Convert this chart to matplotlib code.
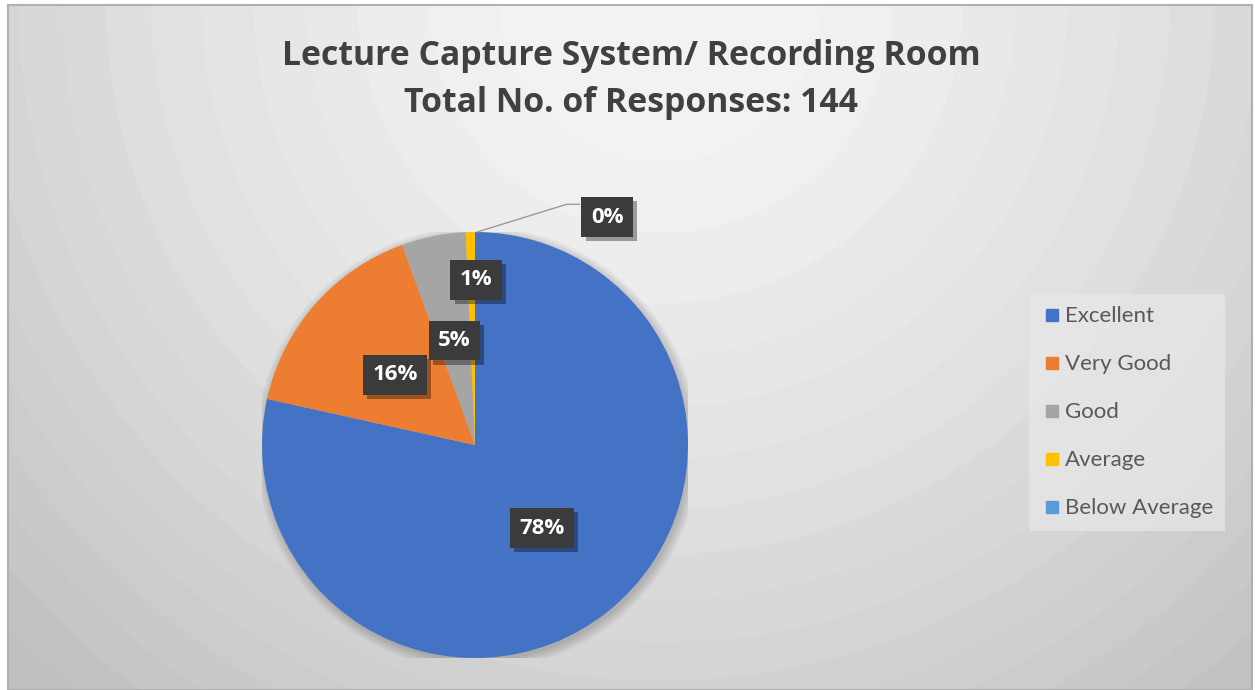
import numpy as np
import matplotlib
matplotlib.use("Agg")
import matplotlib.pyplot as plt
from matplotlib.patches import Circle, Rectangle
from matplotlib.lines import Line2D
import matplotlib.patheffects as pe

# ---- data ----
categories = ["Excellent", "Very Good", "Good", "Average", "Below Average"]
counts = [113, 23, 7, 1, 0]
colors = ["#4472C4", "#ED7D31", "#A5A5A5", "#FFC000", "#5B9BD5"]
title_lines = ["Lecture Capture System/ Recording Room", "Total No. of Responses: 144"]

total = sum(counts)
W, H = 1255, 690
fig = plt.figure(figsize=(W / 100, H / 100), dpi=100)
fig.patch.set_facecolor("white")

# ---- background (radial banded gradient) ----
x0, x1, y0, y1 = 8, 1252, 5, 690
bg = fig.add_axes([x0 / W, 0, (x1 - x0) / W, (y1 - y0) / H])
bg.set_axis_off()
xs = np.arange(x0, x1)
ys = np.arange(y0, y1)
X, Y = np.meshgrid(xs, ys)
d = np.hypot(X - 660, Y - 0)
v = np.interp(d, [0, 150, 300, 500, 650, 900, 1100],
              [0.965, 0.955, 0.93, 0.885, 0.845, 0.765, 0.74])
step = 3 / 255
v = np.floor(v / step) * step
bg.imshow(np.dstack([v, v, v]), extent=[0, 1, 0, 1], aspect="auto",
          interpolation="bilinear", origin="upper")
bg.set_xlim(0, 1)
bg.set_ylim(0, 1)
bg.add_patch(Rectangle((0, 0), 1, 1.0, fill=False, edgecolor="#b0b0b0",
                       linewidth=1.5, transform=bg.transAxes, clip_on=False))

# ---- title ----
fig.text(631 / W, 1 - 56 / H, title_lines[0], ha="center", va="center",
         fontsize=24.3, fontweight="bold", family="Open Sans", color="#404040")
fig.text(631 / W, 1 - 103 / H, title_lines[1], ha="center", va="center",
         fontsize=24.3, fontweight="bold", family="Open Sans", color="#404040")

# ---- pie ----
cx, cy, r = 475, 445, 213
ax = fig.add_axes([(cx - r) / W, (H - cy - r) / H, 2 * r / W, 2 * r / H])
ax.set_axis_off()
ax.patch.set_alpha(0)
# soft shadow
for i in range(8):
    ax.add_patch(Circle((0.01, -0.015), 1 + 0.006 * i, color="black",
                        alpha=0.025, zorder=0, linewidth=0))
wedges, _ = ax.pie(counts, colors=colors, startangle=90, counterclock=False,
                   radius=1, wedgeprops=dict(linewidth=0), normalize=True)
for w in wedges:
    w.set_zorder(2)
ax.set_xlim(-1, 1)
ax.set_ylim(-1, 1)

# label placement
custom = {3: (0.005, 0.775), 4: (0.62, 1.07)}
cum = 0
for i, c in enumerate(counts):
    mid = 90 - 360 * (cum + c / 2) / total
    cum += c
    pct = f"{round(100 * c / total)}%"
    if i in custom:
        lx, ly = custom[i]
    else:
        lx, ly = 0.5 * np.cos(np.radians(mid)), 0.5 * np.sin(np.radians(mid))
    t = ax.text(lx, ly, pct, ha="center", va="center", fontsize=16,
                fontweight="bold", family="Open Sans", color="white", zorder=5,
                bbox=dict(boxstyle="square,pad=0.42", facecolor="#3b3b3b",
                          edgecolor="none"))
    t.get_bbox_patch().set_path_effects(
        [pe.SimplePatchShadow(offset=(3, -3), alpha=0.35, shadow_rgbFace="black"),
         pe.Normal()])
    if i == 4:
        ang = np.radians(mid)
        ax.plot([np.cos(ang) + 0.01, 0.43, 0.49], [np.sin(ang), 1.13, 1.13],
                color="#9a9a9a", linewidth=1, zorder=4, clip_on=False)

# ---- legend ----
handles = [Line2D([0], [0], marker="s", linestyle="none", markersize=9,
                  markerfacecolor=c, markeredgecolor=c) for c in colors]
leg = fig.legend(handles, categories, loc="center left",
                 bbox_to_anchor=(1018 / W, 1 - 412.5 / H), frameon=True,
                 labelspacing=1.26, handletextpad=0.05,
                 handlelength=1.0, borderpad=0.55,
                 prop=dict(family="Lato", size=16))
frame = leg.get_frame()
frame.set_facecolor("#e8e8e8")
frame.set_alpha(0.7)
frame.set_edgecolor("none")
frame.set_boxstyle("square", pad=0)
for txt in leg.get_texts():
    txt.set_color("#595959")

fig.savefig("out.png", dpi=100, facecolor="white")
